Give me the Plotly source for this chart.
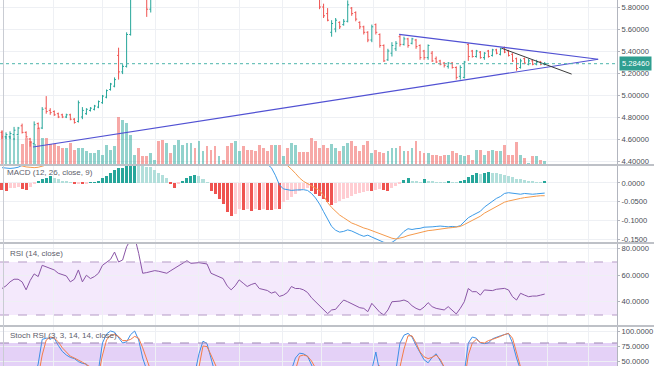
import plotly.graph_objects as go

# ---------------- data ----------------
opens = [4.66,4.62,4.62,4.64,4.64,4.72,4.66,4.60,4.56,4.74,
 4.70,4.88,4.86,4.85,4.83,4.82,4.80,4.82,4.78,4.76,
 4.80,4.83,4.86,4.87,4.89,4.93,4.98,5.05,5.08,5.36,
 5.21,5.26,5.55,5.95,6.15,6.10,6.02,5.78,5.95,6.05,
 6.00,5.97,6.08,6.04,6.12,6.20,6.28,6.35,6.45,6.38,
 6.50,6.58,6.48,6.35,6.25,6.30,6.22,6.12,6.02,6.12,
 6.18,6.10,6.06,6.03,6.00,5.99,6.00,5.98,5.94,6.02,
 5.98,6.05,6.00,6.06,6.10,6.04,6.00,5.99,5.96,5.92,
 5.80,5.74,5.57,5.60,5.66,5.64,5.67,5.79,5.75,5.66,
 5.62,5.57,5.50,5.64,5.55,5.45,5.32,5.38,5.42,5.53,
 5.46,5.51,5.47,5.50,5.45,5.40,5.34,5.38,5.33,5.31,
 5.29,5.26,5.29,5.25,5.17,5.16,5.46,5.40,5.35,5.39,
 5.34,5.40,5.36,5.41,5.37,5.43,5.40,5.37,5.33,5.25,
 5.33,5.28,5.31,5.28,5.30,5.28]
highs = [4.68,4.66,4.67,4.71,4.71,4.74,4.67,4.61,4.76,4.75,
 4.89,4.99,4.88,4.86,4.84,4.83,4.83,4.83,4.79,4.95,
 4.89,4.88,4.89,4.91,4.95,5.00,5.05,5.11,5.16,5.43,
 5.28,5.57,6.00,6.20,6.22,6.14,6.05,5.98,6.08,6.09,
 6.03,6.10,6.11,6.15,6.23,6.31,6.38,6.49,6.48,6.54,
 6.63,6.60,6.50,6.38,6.34,6.32,6.24,6.14,6.15,6.21,
 6.20,6.13,6.09,6.06,6.03,6.02,6.03,6.00,6.05,6.04,
 6.08,6.07,6.09,6.13,6.12,6.06,6.02,6.01,5.98,5.94,
 5.83,5.79,5.68,5.70,5.67,5.69,5.86,5.80,5.76,5.67,
 5.63,5.58,5.64,5.65,5.56,5.46,5.42,5.48,5.49,5.55,
 5.53,5.52,5.52,5.51,5.46,5.41,5.46,5.40,5.35,5.32,
 5.30,5.30,5.30,5.26,5.27,5.31,5.47,5.41,5.41,5.40,
 5.39,5.41,5.42,5.42,5.43,5.44,5.41,5.38,5.34,5.33,
 5.34,5.33,5.32,5.32,5.31,5.30]
lows = [4.60,4.60,4.60,4.59,4.63,4.65,4.61,4.53,4.55,4.69,
 4.69,4.83,4.82,4.81,4.79,4.79,4.79,4.77,4.74,4.75,
 4.78,4.82,4.85,4.86,4.88,4.92,4.97,5.04,5.07,5.14,
 5.19,5.25,5.54,5.93,6.05,5.98,5.71,5.75,5.92,5.97,
 5.94,5.95,6.01,6.02,6.10,6.17,6.25,6.32,6.33,6.36,
 6.47,6.44,6.31,6.21,6.22,6.19,6.08,5.98,6.00,6.09,
 6.07,6.03,6.00,5.97,5.94,5.93,5.93,5.92,5.93,5.95,
 5.96,5.97,5.98,6.04,6.01,5.97,5.94,5.91,5.89,5.78,
 5.70,5.67,5.53,5.57,5.60,5.63,5.66,5.72,5.67,5.60,
 5.55,5.48,5.48,5.55,5.43,5.30,5.31,5.35,5.40,5.44,
 5.45,5.43,5.46,5.42,5.32,5.32,5.32,5.30,5.29,5.27,
 5.25,5.24,5.24,5.14,5.14,5.15,5.31,5.34,5.34,5.33,
 5.32,5.34,5.35,5.37,5.36,5.38,5.35,5.30,5.22,5.24,
 5.28,5.27,5.27,5.27,5.27,5.27]
closes = [4.62,4.64,4.65,4.68,4.70,4.66,4.62,4.57,4.73,4.70,
 4.87,4.85,4.84,4.82,4.80,4.80,4.82,4.78,4.75,4.93,
 4.86,4.87,4.88,4.90,4.94,4.99,5.04,5.10,5.14,5.21,
 5.26,5.55,5.95,6.15,6.10,6.02,5.78,5.95,6.05,6.00,
 5.97,6.08,6.04,6.12,6.20,6.28,6.35,6.45,6.38,6.50,
 6.58,6.48,6.35,6.25,6.30,6.22,6.12,6.02,6.12,6.18,
 6.10,6.06,6.03,6.00,5.97,5.96,5.96,5.94,6.02,5.98,
 6.05,6.00,6.06,6.10,6.04,6.00,5.97,5.94,5.92,5.80,
 5.72,5.68,5.65,5.68,5.62,5.67,5.82,5.74,5.69,5.62,
 5.57,5.50,5.62,5.57,5.45,5.31,5.40,5.45,5.47,5.46,
 5.51,5.45,5.51,5.44,5.34,5.34,5.45,5.31,5.30,5.28,
 5.27,5.29,5.25,5.16,5.25,5.30,5.35,5.35,5.40,5.34,
 5.38,5.35,5.41,5.38,5.42,5.39,5.36,5.31,5.24,5.31,
 5.29,5.31,5.28,5.30,5.28,5.2846]
volume = [33,28,28,26,28,20,26,23,20,36,
 26,26,20,20,18,16,16,21,14,16,
 16,13,11.5,11,14,9.5,19.5,14,18,47,
 44,41,29,9.5,16,8,8,11,4.5,23,
 24,21,11,19.5,24,19.5,21,21,16,23,
 13,18,14,18,8.5,4.5,18,21,23,13,
 18,14,14,13,19.5,16,13,19.5,19,19,
 8,16,21,19,12,12,12,26,23,16,
 19.5,16,20,16,13,18,21,23,18,13,
 19.5,23,11,14,12,11.5,13,16,16,18,
 13,13,16,23,13,11.5,11.5,9.5,9.5,8,
 9.5,9.5,13,11.5,9.5,8,9.5,4.5,14.5,14.5,
 9.5,13,14.5,13,13,19.5,9.5,9.5,22,9.5,
 6,1.5,8,8,4.5,3]
macd = [0.040,0.039,0.038,0.039,0.041,0.046,0.050,0.055,0.062,0.072,
 0.085,0.095,0.102,0.104,0.104,0.102,0.100,0.098,0.096,0.098,
 0.096,0.096,0.097,0.099,0.103,0.112,0.120,0.132,0.145,0.152,
 0.160,0.175,0.195,0.210,0.215,0.218,0.216,0.215,0.212,0.208,
 0.205,0.200,0.188,0.180,0.188,0.195,0.203,0.210,0.213,0.212,
 0.205,0.196,0.175,0.162,0.146,0.130,0.108,0.094,0.088,0.088,
 0.080,0.075,0.068,0.066,0.060,0.058,0.050,0.040,0.020,-0.005,
 -0.016,-0.019,-0.020,-0.019,-0.018,-0.018,-0.020,-0.028,-0.040,-0.056,
 -0.076,-0.097,-0.115,-0.125,-0.130,-0.128,-0.124,-0.127,-0.133,-0.137,
 -0.141,-0.138,-0.143,-0.148,-0.154,-0.157,-0.158,-0.157,-0.150,-0.140,
 -0.128,-0.121,-0.123,-0.121,-0.120,-0.117,-0.117,-0.116,-0.115,-0.114,
 -0.115,-0.116,-0.115,-0.116,-0.113,-0.103,-0.092,-0.086,-0.080,-0.075,
 -0.064,-0.056,-0.048,-0.041,-0.036,-0.028,-0.026,-0.028,-0.030,-0.030,
 -0.028,-0.029,-0.030,-0.029,-0.028,-0.027]
signal = [0.058,0.056,0.053,0.050,0.047,0.044,0.042,0.041,0.040,0.041,
 0.043,0.047,0.055,0.065,0.074,0.081,0.086,0.089,0.091,0.093,
 0.094,0.095,0.095,0.096,0.097,0.099,0.103,0.108,0.115,0.123,
 0.131,0.140,0.150,0.160,0.170,0.178,0.185,0.190,0.194,0.196,
 0.198,0.199,0.197,0.195,0.194,0.194,0.195,0.197,0.200,0.202,
 0.203,0.202,0.198,0.192,0.185,0.175,0.162,0.150,0.140,0.132,
 0.125,0.118,0.112,0.106,0.100,0.095,0.090,0.083,0.075,0.065,
 0.056,0.047,0.036,0.025,0.013,0.004,-0.002,-0.008,-0.013,-0.020,
 -0.034,-0.052,-0.065,-0.075,-0.085,-0.092,-0.100,-0.106,-0.110,-0.115,
 -0.119,-0.122,-0.126,-0.130,-0.135,-0.139,-0.143,-0.146,-0.148,-0.146,
 -0.143,-0.139,-0.136,-0.133,-0.130,-0.128,-0.126,-0.125,-0.123,-0.122,
 -0.121,-0.119,-0.118,-0.117,-0.115,-0.110,-0.105,-0.099,-0.094,-0.088,
 -0.080,-0.074,-0.069,-0.064,-0.058,-0.051,-0.048,-0.045,-0.043,-0.041,
 -0.039,-0.037,-0.036,-0.035,-0.034,-0.034]
histogram = [-0.020,-0.022,-0.014,-0.013,-0.012,-0.017,-0.019,-0.010,-0.004,0.005,
 0.009,0.013,0.017,0.013,0.009,0.004,0.003,0.001,-0.002,-0.001,
 -0.002,-0.001,0.0005,0.002,0.004,0.013,0.017,0.026,0.034,0.038,
 0.040,0.047,0.050,0.052,0.046,0.045,0.043,0.042,0.034,0.026,
 0.021,0.013,-0.004,-0.013,-0.003,0.005,0.012,0.018,0.020,0.017,
 0.009,0.001,-0.021,-0.030,-0.043,-0.056,-0.077,-0.088,-0.082,-0.068,
 -0.072,-0.070,-0.073,-0.070,-0.072,-0.069,-0.071,-0.072,-0.068,-0.070,
 -0.051,-0.045,-0.038,-0.030,-0.022,-0.017,-0.013,-0.022,-0.030,-0.035,
 -0.043,-0.051,-0.058,-0.052,-0.047,-0.043,-0.039,-0.034,-0.030,-0.027,
 -0.023,-0.021,-0.022,-0.018,-0.016,-0.020,-0.021,-0.013,-0.009,-0.004,
 0.007,0.013,0.004,0.003,0.002,0.009,0.005,0.003,0.002,0.0015,
 0.001,0.004,0.002,0.001,0.003,0.007,0.015,0.021,0.025,0.024,
 0.026,0.028,0.026,0.025,0.024,0.021,0.019,0.015,0.011,0.009,
 0.007,0.005,0.003,0.002,0.0015,0.0025]
rsi = [50,52,55,57,57,55,49,56,61,59,
 67.5,66.5,65.5,64,61.5,60.5,59.5,55,57,64,
 55,60,57.5,59,61.5,67.5,70,72,77.5,70,
 71.5,81.5,87,89,76.5,61.5,62,63,63.5,63,
 62.5,61.5,63.5,65.5,67.5,69,71,69,69.5,69.5,
 69,68.5,61.5,60,59,57.5,52,49,52,56.5,
 54,51.5,53,54,50,49.5,48.5,46.5,47.5,44,
 45,47,51.5,50,50,49,47,43,40,37.5,
 34,31,33.8,34.3,38,41.3,40,38.5,36.5,35.5,
 35,32.5,38.8,35,32,30,33.8,40,40,40.5,
 41.3,40,37,35,33.8,36,39.3,36.3,35,34.5,
 33.8,36.3,33.5,30.8,35,40,50,47.6,47.6,45,
 48.9,48.9,48.4,49.4,49.8,50.1,48.9,43.8,41.3,46.4,
 45,43.8,44.3,44.3,45,45.8]
stoch_k = [10,5,8,15,20,18,10,5,20,45,
 86,88,88,88,76,66,60,56,54,49,
 46,45,30,15,35,80,95,100,98,89,
 80,82,94,100,85,55,30,15,10,5,
 3,5,10,15,12,8,10,20,30,62,
 83,79,55,30,15,5,0,0,5,10,
 8,5,3,5,3,0,0,5,10,12,
 15,20,35,55,63,62,58,40,20,5,
 0,0,5,10,20,25,20,15,10,15,
 20,25,35,65,30,10,5,10,35,80,
 93,96,90,76,63,52,47,56,62,50,
 35,20,10,5,10,30,80,90,88,80,
 79,80,87,90,92,94,96,80,55,35,
 25,20,22,25,30,32]
stoch_d = [15,10,8,10,14,18,16,11,12,23,
 60,85,90,88,82,72,65,58,55,52,
 48,44,40,30,27,60,85,93,94,91,
 84,84,86,91,88,72,45,25,15,10,
 6,5,6,10,12,12,10,13,20,40,
 75,74,60,40,25,15,8,3,2,5,
 8,8,5,4,4,3,1,2,5,9,
 12,16,23,35,58,60,58,50,35,20,
 8,2,2,5,12,18,22,20,15,13,
 15,20,27,40,42,35,15,8,15,40,
 70,92,92,80,65,57,54,56,60,53,
 40,25,15,8,8,15,60,80,86,81,
 80,84,86,88,91,94,96,88,65,40,
 28,23,22,24,27,30]

# drawings (bar index, price)
trend_lower_x = [7.71, 148.3]
trend_lower_y = [4.527, 5.325]
trend_upper_x = [98.8, 148.3]
trend_upper_y = [5.552, 5.325]
trend_short_x = [124.3, 141.7]
trend_short_y = [5.425, 5.19]

grid_x = [12.9, 25.1, 38.1, 48.8, 59.2, 69.7, 79.6, 92.5, 105.2, 115.2, 125.6, 135.8, 145.8]
price_ticks = [4.4, 4.6, 4.8, 5.0, 5.2, 5.4, 5.6, 5.8]
macd_ticks = [-0.15, -0.10, -0.05, 0.0]
rsi_ticks = [40, 60, 80]
stoch_ticks = [50, 75, 100]

bars = list(range(len(closes)))
last_price = closes[-1]

# ---------------- styling ----------------
W, H = 654, 366
XD = 617 / W
UP, DOWN = "#26a69a", "#ef5350"
GRID = "#eef0f4"
AXC = "#b2b5be"
FONT = "Liberation Sans"

def py(px):  # pixel row -> paper y
    return (H - px) / H

vol_colors = ["rgba(38,166,154,0.5)" if c >= o else "rgba(239,83,80,0.5)"
              for o, c in zip(opens, closes)]
hist_colors = []
for i, h in enumerate(histogram):
    prev = histogram[i - 1] if i > 0 else h
    if h >= 0:
        hist_colors.append("#26a69a" if h >= prev else "#b2dfdb")
    else:
        hist_colors.append("#ffcdd2" if h > prev else "#ef5350")

fig = go.Figure()
fig.add_trace(go.Bar(x=bars, y=volume, marker_color=vol_colors, marker_line_width=0,
                     width=0.7, xaxis="x", yaxis="y", hoverinfo="skip"))
fig.add_trace(go.Ohlc(x=bars, open=opens, high=highs, low=lows, close=closes,
                      xaxis="x", yaxis="y2", tickwidth=0.35,
                      increasing=dict(line=dict(color=UP, width=1)),
                      decreasing=dict(line=dict(color=DOWN, width=1))))
fig.add_trace(go.Scatter(x=trend_lower_x, y=trend_lower_y, mode="lines",
                         line=dict(color="#5151d3", width=1.2), xaxis="x", yaxis="y2"))
fig.add_trace(go.Scatter(x=trend_upper_x, y=trend_upper_y, mode="lines",
                         line=dict(color="#5151d3", width=1.2), xaxis="x", yaxis="y2"))
fig.add_trace(go.Scatter(x=trend_short_x, y=trend_short_y, mode="lines",
                         line=dict(color="#3a3a3a", width=1), xaxis="x", yaxis="y2"))

fig.add_trace(go.Bar(x=bars, y=histogram, marker_color=hist_colors, marker_line_width=0,
                     width=0.75, xaxis="x2", yaxis="y3"))
fig.add_trace(go.Scatter(x=bars, y=macd, mode="lines", line=dict(color="#3c9be8", width=1),
                         xaxis="x2", yaxis="y3"))
fig.add_trace(go.Scatter(x=bars, y=signal, mode="lines", line=dict(color="#f59a4c", width=1),
                         xaxis="x2", yaxis="y3"))

fig.add_trace(go.Scatter(x=bars, y=rsi, mode="lines", line=dict(color="#8a56a6", width=1),
                         xaxis="x3", yaxis="y4"))

fig.add_trace(go.Scatter(x=bars, y=stoch_k, mode="lines", line=dict(color="#3d8fe6", width=1),
                         xaxis="x4", yaxis="y5"))
fig.add_trace(go.Scatter(x=bars, y=stoch_d, mode="lines", line=dict(color="#f47c48", width=1),
                         xaxis="x4", yaxis="y5"))

xr = [-0.4975, 152.99]
xcommon = dict(range=xr, domain=[0, XD], showticklabels=False, tickvals=grid_x,
               showgrid=True, gridcolor=GRID, gridwidth=1, zeroline=False,
               showline=False, ticks="", fixedrange=True)
ycommon = dict(side="right", showgrid=True, gridcolor=GRID, zeroline=False,
               showline=True, linecolor=AXC, linewidth=1, ticks="outside",
               ticklen=2, tickcolor=AXC,
               tickfont=dict(family=FONT, size=7.6, color="#4a4d55"))

dom_main = [py(164), 1]
dom_macd = [py(242), py(166)]
dom_rsi = [py(325), py(244)]
dom_stoch = [0, py(327)]

fig.update_layout(
    width=W, height=H, margin=dict(l=0, r=0, t=0, b=0, autoexpand=False),
    paper_bgcolor="white", plot_bgcolor="white", showlegend=False,
    bargap=0,
    xaxis=dict(**xcommon, anchor="y", rangeslider=dict(visible=False)),
    xaxis2=dict(**xcommon, anchor="y3"),
    xaxis3=dict(**xcommon, anchor="y4"),
    xaxis4=dict(**xcommon, anchor="y5"),
    yaxis=dict(domain=dom_main, range=[0, 164], visible=False, anchor="x"),
    yaxis2=dict(**ycommon, overlaying="y", anchor="x", range=[4.3727, 5.8636],
                tickvals=price_ticks, ticktext=[f"{v:.5f}" for v in price_ticks]),
    yaxis3=dict(**ycommon, domain=dom_macd, anchor="x2", range=[-0.156, 0.0444],
                tickvals=macd_ticks, ticktext=[f"{v:.4f}" for v in macd_ticks]),
    yaxis4=dict(**ycommon, domain=dom_rsi, anchor="x3", range=[22.45, 83.58],
                tickvals=rsi_ticks, ticktext=[f"{v:.4f}" for v in rsi_ticks]),
    yaxis5=dict(**ycommon, domain=dom_stoch, anchor="x4", range=[41.67, 106.67],
                tickvals=stoch_ticks, ticktext=[f"{v:.4f}" for v in stoch_ticks]),
)

shapes = []
shapes.append(dict(type="rect", xref="paper", yref="y4", x0=0, x1=XD, y0=30, y1=70,
                   fillcolor="#f4e9fc", line=dict(width=0), layer="below"))
shapes.append(dict(type="rect", xref="paper", yref="y5", x0=0, x1=XD, y0=20, y1=80,
                   fillcolor="#e4d1f7", line=dict(width=0), layer="below"))
for lvl in (70, 30):
    shapes.append(dict(type="line", xref="paper", yref="y4", x0=0, x1=XD, y0=lvl, y1=lvl,
                       line=dict(color="#b59ac6", width=1, dash="dash")))
shapes.append(dict(type="line", xref="paper", yref="y5", x0=0, x1=XD, y0=80, y1=80,
                   line=dict(color="#9d86b3", width=1, dash="dash")))
shapes.append(dict(type="line", xref="paper", yref="y2", x0=0, x1=XD, y0=last_price, y1=last_price,
                   line=dict(color="#4db6ac", width=1, dash="dot")))
for px in (165, 243, 326):
    shapes.append(dict(type="line", xref="paper", yref="paper", x0=0, x1=1, y0=py(px), y1=py(px),
                       line=dict(color="#a9acb4", width=1.5)))
shapes.append(dict(type="line", xref="paper", yref="paper", x0=3.5 / W, x1=3.5 / W, y0=0, y1=1,
                   line=dict(color="#c9ccd3", width=1)))
fig.update_layout(shapes=shapes)

ann = []
title_font = dict(family=FONT, size=8, color="#5d606b")
ann.append(dict(text="MACD (12, 26, close, 9)", x=5 / W, y=py(172), xref="paper", yref="paper",
                xanchor="left", yanchor="middle", showarrow=False, font=title_font))
ann.append(dict(text="RSI (14, close)", x=8 / W, y=py(253), xref="paper", yref="paper",
                xanchor="left", yanchor="middle", showarrow=False, font=title_font))
ann.append(dict(text="Stoch RSI (3, 3, 14, 14, close)", x=8 / W, y=py(335), xref="paper", yref="paper",
                xanchor="left", yanchor="middle", showarrow=False, font=title_font))
ann.append(dict(text=f"{last_price:.5f}", x=619 / W, y=last_price, xref="paper", yref="y2",
                xanchor="left", yanchor="middle", showarrow=False, bgcolor="#2e9e90",
                borderpad=2, font=dict(family=FONT, size=7.6, color="white")))
fig.update_layout(annotations=ann)

fig.write_html("out.html", config={"displayModeBar": False},
               post_script="document.body.style.margin='0';document.body.style.overflow='hidden';")
